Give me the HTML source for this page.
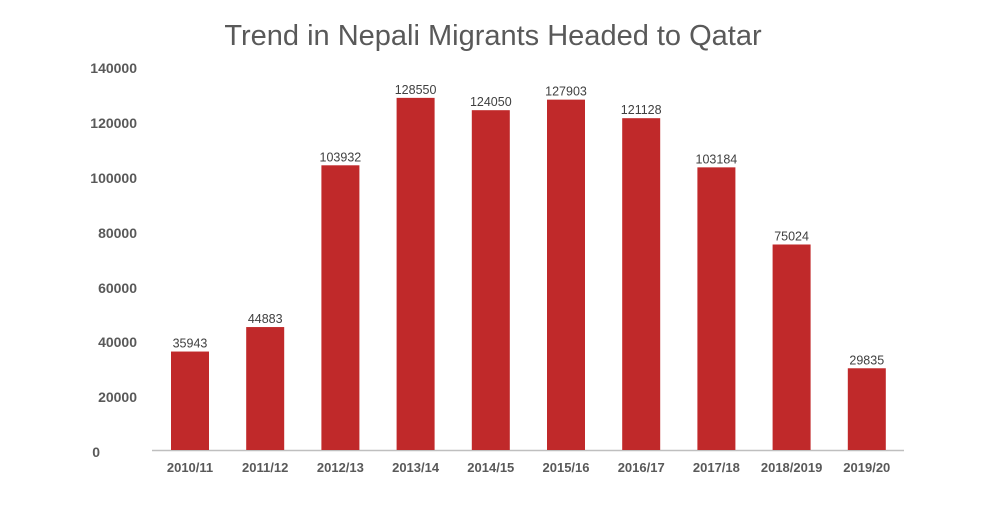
<!DOCTYPE html>
<html><head><style>
body{margin:0;background:#fff}
svg text{font-family:"Liberation Sans",sans-serif}
</style></head><body>
<svg width="1000" height="500" xmlns="http://www.w3.org/2000/svg">
<rect width="1000" height="500" fill="#fff"/>
<text x="493" y="45" text-anchor="middle" font-size="29" fill="#595959">Trend in Nepali Migrants Headed to Qatar</text>
<g font-size="14" font-weight="bold" fill="#595959" text-anchor="end">
<text x="137" y="73">140000</text>
<text x="137" y="128">120000</text>
<text x="137" y="183">100000</text>
<text x="137" y="238">80000</text>
<text x="137" y="293">60000</text>
<text x="137" y="347">40000</text>
<text x="137" y="402">20000</text>
<text x="100" y="457">0</text>
</g>
<line x1="152" y1="450.5" x2="904" y2="450.5" stroke="#bfbfbf" stroke-width="1.5"/>
<g id="bars" fill="#c0292a"></g>
<g id="vals" font-size="12.5" fill="#404040" text-anchor="middle"></g>
<g id="cats" font-size="13" font-weight="bold" fill="#595959" text-anchor="middle"></g>
</svg>
<script>
var d=[["2010/11",35943],["2011/12",44883],["2012/13",103932],["2013/14",128550],["2014/15",124050],["2015/16",127903],["2016/17",121128],["2017/18",103184],["2018/2019",75024],["2019/20",29835]];
var ns="http://www.w3.org/2000/svg";
function el(t,a,p,txt){var e=document.createElementNS(ns,t);for(var k in a)e.setAttribute(k,a[k]);if(txt)e.textContent=txt;document.getElementById(p).appendChild(e);}
var base=450,sc=383.5/140000;
d.forEach(function(r,i){var x=171+i*75.2,h=r[1]*sc;
el("rect",{x:x,y:base-h,width:38,height:h},"bars");
el("text",{x:x+19,y:base-h-4},"vals",String(r[1]));
el("text",{x:x+19,y:472},"cats",r[0]);});
</script>
</body></html>
